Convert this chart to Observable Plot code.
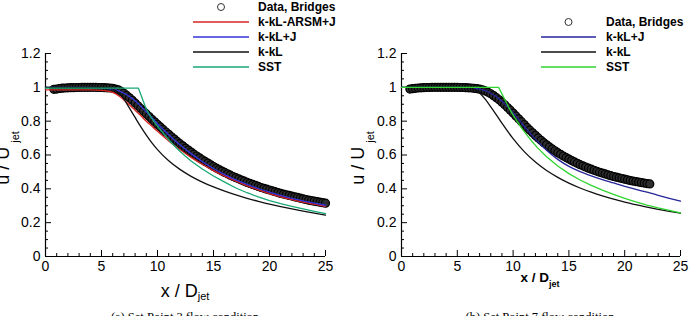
<!DOCTYPE html>
<html>
<head>
<meta charset="utf-8">
<script src="https://cdn.jsdelivr.net/npm/d3@7"></script>
<script src="https://cdn.jsdelivr.net/npm/@observablehq/plot@0.6"></script>
<style>
  html, body { margin: 0; padding: 0; background: #fff; overflow: hidden; }
  #wrap { display: flex; width: 690px; height: 316px; }
  #wrap svg { display: block; }
</style>
</head>
<body>
<div id="wrap"></div>
<script>
// ---------- axis ticks ----------
const xMajor = [0, 5, 10, 15, 20, 25];
const xMinor = [1, 2, 3, 4, 6, 7, 8, 9, 11, 12, 13, 14, 16, 17, 18, 19, 21, 22, 23, 24];
const yMajor = [0, 0.2, 0.4, 0.6, 0.8, 1, 1.2];
const yMinor = [0.05, 0.1, 0.15, 0.25, 0.3, 0.35, 0.45, 0.5, 0.55, 0.65, 0.7, 0.75, 0.85, 0.9, 0.95, 1.05, 1.1, 1.15];

// ---------- (a) Set Point 3: measured centerline velocity ----------
const dataAX = [0.75, 1, 1.25, 1.5, 1.75, 2, 2.25, 2.5, 2.75, 3, 3.25, 3.5, 3.75, 4, 4.25, 4.5, 4.75, 5,
  5.25, 5.5, 5.75, 6, 6.25, 6.5, 6.75, 7, 7.25, 7.5, 7.75, 8, 8.25, 8.5, 8.75, 9, 9.25, 9.5, 9.75, 10,
  10.25, 10.5, 10.75, 11, 11.25, 11.5, 11.75, 12, 12.25, 12.5, 12.75, 13, 13.25, 13.5, 13.75, 14,
  14.25, 14.5, 14.75, 15, 15.25, 15.5, 15.75, 16, 16.25, 16.5, 16.75, 17, 17.25, 17.5, 17.75, 18,
  18.25, 18.5, 18.75, 19, 19.25, 19.5, 19.75, 20, 20.25, 20.5, 20.75, 21, 21.25, 21.5, 21.75, 22,
  22.25, 22.5, 22.75, 23, 23.25, 23.5, 23.75, 24, 24.25, 24.5, 24.75, 25];
const dataAY = [0.988, 0.99, 0.993, 0.995, 0.996, 0.997, 0.998, 0.998, 0.999, 0.999, 1.0, 1.0, 1.0, 1.0, 1.0, 1.0, 0.999, 0.999,
  0.998, 0.997, 0.996, 0.994, 0.99, 0.985, 0.976, 0.965, 0.952, 0.938, 0.923, 0.907, 0.891, 0.875, 0.859, 0.843, 0.827, 0.811, 0.796, 0.781,
  0.766, 0.751, 0.736, 0.722, 0.708, 0.694, 0.68, 0.667, 0.654, 0.641, 0.629, 0.617, 0.605, 0.594, 0.583, 0.572,
  0.562, 0.552, 0.542, 0.532, 0.523, 0.514, 0.505, 0.497, 0.489, 0.481, 0.473, 0.466, 0.459, 0.452, 0.445, 0.438,
  0.432, 0.426, 0.42, 0.414, 0.408, 0.403, 0.398, 0.393, 0.388, 0.383, 0.378, 0.373, 0.369, 0.365, 0.361, 0.357,
  0.353, 0.349, 0.345, 0.341, 0.337, 0.333, 0.33, 0.327, 0.324, 0.321, 0.318, 0.315];

// (a) model predictions
const arsmAX = [0, 1, 2, 3, 4, 5, 5.5, 6, 6.5, 7, 7.5, 8, 8.5, 9, 9.5, 10, 11, 12, 13, 14, 15, 16, 17, 18, 19, 20, 21, 22, 23, 24, 25];
const arsmAY = [0.985, 0.985, 0.985, 0.985, 0.985, 0.982, 0.978, 0.97, 0.952, 0.925, 0.896, 0.865, 0.833, 0.8, 0.77, 0.74, 0.683, 0.632, 0.586, 0.545, 0.508, 0.475, 0.445, 0.418, 0.394, 0.372, 0.353, 0.336, 0.321, 0.309, 0.297];
const kklJAX = [0, 1, 2, 3, 4, 5, 5.5, 6, 6.5, 7, 7.5, 8, 8.5, 9, 9.5, 10, 11, 12, 13, 14, 15, 16, 17, 18, 19, 20, 21, 22, 23, 24, 25];
const kklJAY = [1.0, 1.0, 1.0, 1.0, 1.0, 0.998, 0.995, 0.99, 0.98, 0.965, 0.945, 0.92, 0.889, 0.855, 0.82, 0.785, 0.72, 0.66, 0.608, 0.562, 0.52, 0.484, 0.453, 0.426, 0.402, 0.38, 0.361, 0.344, 0.329, 0.316, 0.303];
const kklAX = [0, 1, 2, 3, 4, 5, 5.5, 6, 6.5, 7, 7.5, 8, 8.5, 9, 9.5, 10, 11, 12, 13, 14, 15, 16, 17, 18, 19, 20, 21, 22, 23, 24, 25];
const kklAY = [1.0, 1.0, 1.0, 1.0, 1.0, 1.0, 0.998, 0.99, 0.97, 0.93, 0.877, 0.822, 0.768, 0.718, 0.672, 0.632, 0.566, 0.515, 0.474, 0.44, 0.411, 0.386, 0.364, 0.344, 0.326, 0.31, 0.295, 0.281, 0.268, 0.256, 0.245];
const sstAX = [0, 1, 8.3, 9, 9.5, 10, 10.5, 11, 11.5, 12, 12.5, 13, 14, 15, 16, 17, 18, 19, 20, 21, 22, 23, 24, 25];
const sstAY = [0.995, 0.995, 0.995, 0.87, 0.815, 0.77, 0.73, 0.69, 0.655, 0.622, 0.592, 0.565, 0.517, 0.476, 0.44, 0.405, 0.377, 0.352, 0.33, 0.312, 0.296, 0.281, 0.267, 0.253];

// ---------- (b) Set Point 7: measured centerline velocity ----------
const dataBX = [0.75, 1, 1.25, 1.5, 1.75, 2, 2.25, 2.5, 2.75, 3, 3.25, 3.5, 3.75, 4, 4.25, 4.5, 4.75, 5,
  5.25, 5.5, 5.75, 6, 6.25, 6.5, 6.75, 7, 7.25, 7.5, 7.75, 8, 8.25, 8.5, 8.75, 9, 9.25, 9.5, 9.75, 10,
  10.25, 10.5, 10.75, 11, 11.25, 11.5, 11.75, 12, 12.25, 12.5, 12.75, 13, 13.25, 13.5, 13.75, 14,
  14.25, 14.5, 14.75, 15, 15.25, 15.5, 15.75, 16, 16.25, 16.5, 16.75, 17, 17.25, 17.5, 17.75, 18,
  18.25, 18.5, 18.75, 19, 19.25, 19.5, 19.75, 20, 20.25, 20.5, 20.75, 21, 21.25, 21.5, 21.75, 22, 22.25];
const dataBY = [0.99, 0.992, 0.994, 0.996, 0.997, 0.998, 0.999, 0.999, 1.0, 1.0, 1.0, 1.0, 1.0, 1.0, 1.0, 1.0, 1.0, 1.0,
  0.999, 0.999, 0.998, 0.997, 0.996, 0.994, 0.992, 0.989, 0.985, 0.979, 0.971, 0.962, 0.951, 0.939, 0.926, 0.912, 0.897, 0.881, 0.865, 0.848,
  0.831, 0.814, 0.797, 0.78, 0.763, 0.747, 0.731, 0.716, 0.701, 0.687, 0.673, 0.66, 0.648, 0.636, 0.625, 0.614,
  0.604, 0.594, 0.585, 0.576, 0.567, 0.559, 0.551, 0.543, 0.536, 0.529, 0.522, 0.516, 0.51, 0.504, 0.498, 0.493,
  0.488, 0.483, 0.478, 0.473, 0.469, 0.465, 0.461, 0.457, 0.453, 0.449, 0.446, 0.443, 0.44, 0.437, 0.434, 0.431, 0.429];

// (b) model predictions
const kklJBX = [0, 1, 2, 3, 4, 5, 6, 6.5, 7, 7.5, 8, 8.5, 9, 9.5, 10, 10.5, 11, 11.5, 12, 13, 14, 15, 16, 17, 18, 19, 20, 21, 22, 23, 24, 25];
const kklJBY = [1.0, 1.0, 1.0, 1.0, 1.0, 1.0, 0.998, 0.995, 0.99, 0.98, 0.965, 0.945, 0.918, 0.886, 0.85, 0.81, 0.77, 0.731, 0.694, 0.628, 0.574, 0.533, 0.502, 0.477, 0.455, 0.435, 0.415, 0.397, 0.38, 0.362, 0.344, 0.327];
const kklBX = [0, 1, 2, 3, 4, 5, 6, 6.5, 7, 7.5, 8, 8.5, 9, 9.5, 10, 11, 12, 13, 14, 15, 16, 17, 18, 19, 20, 21, 22, 23, 24, 25];
const kklBY = [1.0, 1.0, 1.0, 1.0, 1.0, 1.0, 0.998, 0.99, 0.967, 0.93, 0.885, 0.837, 0.788, 0.741, 0.697, 0.62, 0.558, 0.508, 0.468, 0.434, 0.405, 0.38, 0.358, 0.339, 0.322, 0.306, 0.292, 0.279, 0.267, 0.256];
const sstBX = [0, 1, 8.7, 9.2, 9.7, 10.2, 10.7, 11.2, 11.7, 12.2, 13, 14, 15, 16, 17, 18, 19, 20, 21, 22, 23, 24, 25];
const sstBY = [1.0, 1.0, 1.0, 0.935, 0.87, 0.815, 0.765, 0.72, 0.68, 0.642, 0.59, 0.535, 0.49, 0.452, 0.42, 0.392, 0.367, 0.344, 0.323, 0.304, 0.287, 0.272, 0.258];

const FONT = "'Liberation Sans', Arial, Helvetica, sans-serif";
const SERIF = "'Liberation Serif', 'Times New Roman', serif";

const pairs = (xs, ys) => xs.map((x, i) => ({x, y: ys[i]}));

function addAxisTitle(g, {x, y, rotate, main, sub, size, subSize, weight, subDy, subDx}) {
  const t = g.append("text")
    .attr("transform", `translate(${x},${y})` + (rotate ? " rotate(-90)" : ""))
    .attr("text-anchor", "middle")
    .attr("font-family", FONT)
    .attr("font-weight", weight)
    .attr("font-size", size)
    .attr("fill", "black");
  t.append("tspan").text(main);
  t.append("tspan").attr("font-size", subSize).attr("dy", subDy).attr("dx", subDx).text(sub);
}

function drawPanel(cfg) {
  const lines = cfg.series.map(s =>
    Plot.line(pairs(s.x, s.y), {x: "x", y: "y", stroke: s.color, strokeWidth: 1.3, curve: s.curve})
  );
  const svg = Plot.plot({
    width: 345,
    height: 316,
    marginLeft: cfg.marginLeft,
    marginRight: cfg.marginRight,
    marginTop: 53,
    marginBottom: 60,
    x: {domain: [0, 25]},
    y: {domain: [0, 1.2]},
    style: {fontFamily: FONT, fontSize: "14px", background: "white", color: "black", overflow: "hidden"},
    marks: [
      Plot.axisX({ticks: xMinor, tickSize: -3, fill: "none", label: null}),
      Plot.axisX({ticks: xMajor, tickSize: -6, fill: "none", label: null}),
      Plot.axisX({ticks: xMajor, tickSize: 0, tickPadding: 5, fontSize: 14, label: null, tickFormat: d => String(d)}),
      Plot.axisY({ticks: yMinor, tickSize: -3, fill: "none", label: null}),
      Plot.axisY({ticks: yMajor, tickSize: -6, fill: "none", label: null}),
      Plot.axisY({ticks: yMajor, tickSize: 0, tickPadding: 5, fontSize: 14, label: null, tickFormat: d => String(d)}),
      Plot.ruleX([0], {strokeWidth: 1.2}),
      Plot.ruleY([0], {strokeWidth: 1.2}),
      Plot.dot(pairs(cfg.dataX, cfg.dataY), {x: "x", y: "y", r: 4, stroke: "#000", strokeWidth: 1.2, fill: "#2e2e2e"}),
      ...lines
    ]
  });

  const g = d3.select(svg).append("g");

  // axis titles
  addAxisTitle(g, cfg.xTitle);
  addAxisTitle(g, cfg.yTitle);

  // legend
  const L = cfg.legend;
  const lg = g.append("g").attr("font-family", FONT).attr("font-weight", "bold")
    .attr("font-size", 12).attr("text-anchor", "start");
  const rows = [{label: "Data, Bridges", marker: true}, ...cfg.series.map(s => ({label: s.name, color: s.color}))];
  rows.forEach((r, i) => {
    const cy = L.top + i * L.step;
    if (r.marker) {
      lg.append("circle").attr("cx", (L.x1 + L.x2) / 2).attr("cy", cy).attr("r", 3.5)
        .attr("fill", "white").attr("stroke", "#333").attr("stroke-width", 1);
    } else {
      lg.append("line").attr("x1", L.x1).attr("x2", L.x2).attr("y1", cy).attr("y2", cy)
        .attr("stroke", r.color).attr("stroke-width", 1.3);
    }
    lg.append("text").attr("x", L.textX).attr("y", cy + 4.3).attr("fill", "black").text(r.label);
  });

  // sub-figure caption
  g.append("text").attr("x", cfg.caption.x).attr("y", 321).attr("text-anchor", "middle")
    .attr("font-family", SERIF).attr("font-size", 12.5).attr("fill", "black").text(cfg.caption.text);

  document.getElementById("wrap").appendChild(svg);
}

drawPanel({
  marginLeft: 45, marginRight: 20,
  dataX: dataAX, dataY: dataAY,
  series: [
    {name: "k-kL-ARSM+J", color: "#d92424", x: arsmAX, y: arsmAY, curve: "monotone-x"},
    {name: "k-kL+J", color: "#3434dc", x: kklJAX, y: kklJAY, curve: "monotone-x"},
    {name: "k-kL", color: "#111111", x: kklAX, y: kklAY, curve: "monotone-x"},
    {name: "SST", color: "#17a874", x: sstAX, y: sstAY, curve: "linear"}
  ],
  legend: {x1: 193, x2: 249, textX: 258, top: 7, step: 15},
  xTitle: {x: 185, y: 297, rotate: false, main: "x / D", sub: "jet", size: 18, subSize: 11, weight: "normal", subDy: 3, subDx: 0},
  yTitle: {x: 8.5, y: 158, rotate: true, main: "u / U", sub: "jet", size: 18, subSize: 11, weight: "normal", subDy: 10, subDx: 4},
  caption: {x: 185, text: "(a) Set Point 3 flow condition"}
});

drawPanel({
  marginLeft: 56, marginRight: 10,
  dataX: dataBX, dataY: dataBY,
  series: [
    {name: "k-kL+J", color: "#25259a", x: kklJBX, y: kklJBY, curve: "monotone-x"},
    {name: "k-kL", color: "#111111", x: kklBX, y: kklBY, curve: "monotone-x"},
    {name: "SST", color: "#2fd42f", x: sstBX, y: sstBY, curve: "linear"}
  ],
  legend: {x1: 196, x2: 251, textX: 261, top: 22, step: 15},
  xTitle: {x: 195, y: 282, rotate: false, main: "x / D", sub: "jet", size: 13.5, subSize: 9, weight: "bold", subDy: 5, subDx: 0},
  yTitle: {x: 18.5, y: 158, rotate: true, main: "u / U", sub: "jet", size: 18, subSize: 11, weight: "normal", subDy: 10, subDx: 4},
  caption: {x: 195, text: "(b) Set Point 7 flow condition"}
});
</script>
</body>
</html>
